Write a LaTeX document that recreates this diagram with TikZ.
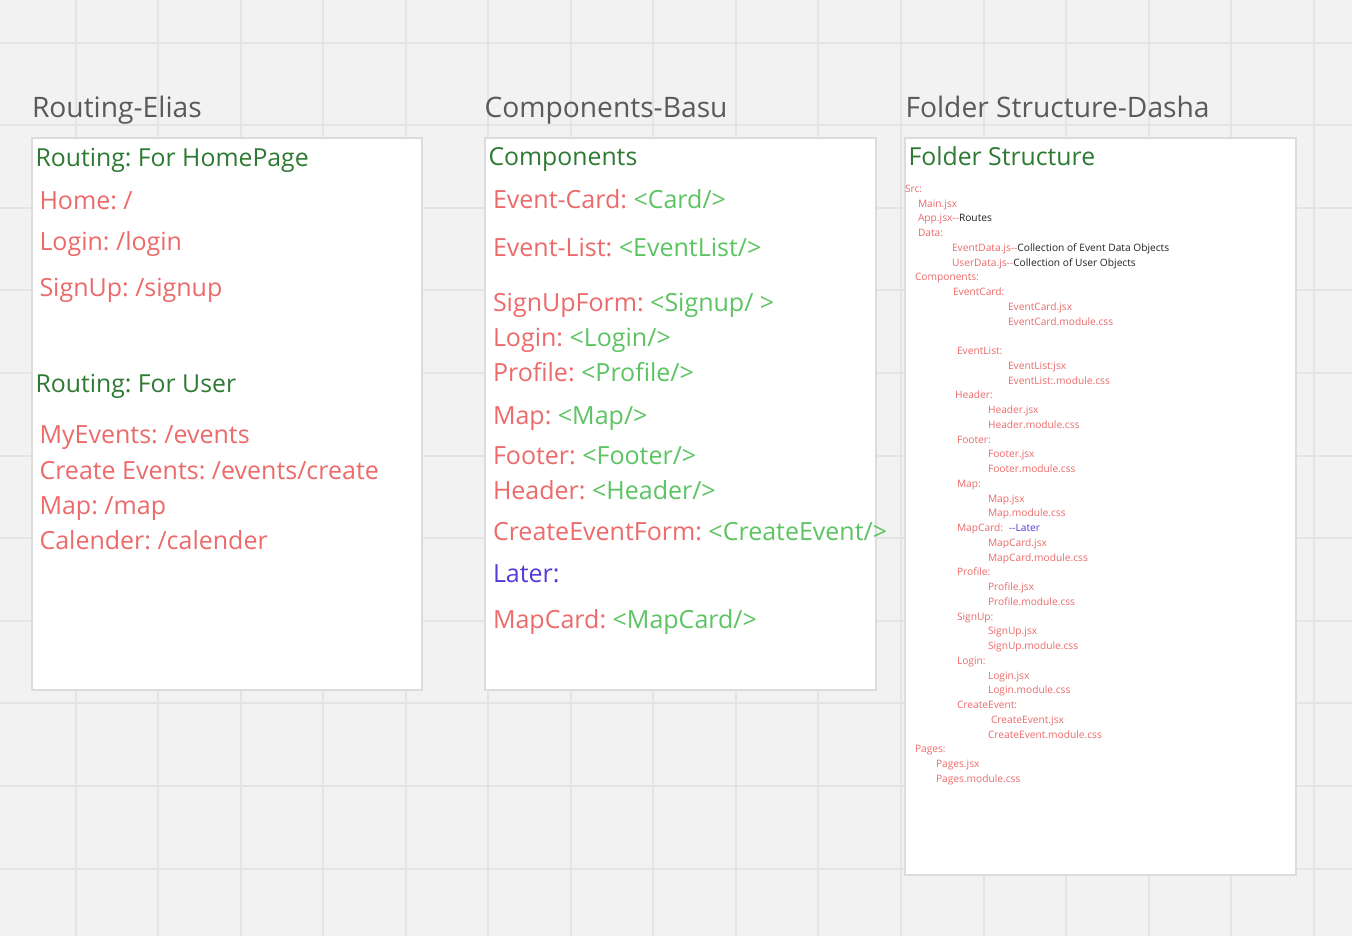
\documentclass[tikz,border=0pt]{standalone}
\usepackage{fontspec}
\setmainfont{Open Sans}
\frenchspacing
\definecolor{bg}{HTML}{F2F2F2}
\definecolor{gridc}{HTML}{E4E4E4}
\definecolor{boxline}{HTML}{DCDCDC}
\definecolor{titlec}{HTML}{5A5A5A}
\definecolor{dgreen}{RGB}{46,122,50}
\definecolor{salmon}{RGB}{236,106,106}
\definecolor{lgreen}{RGB}{92,196,98}
\definecolor{purp}{RGB}{84,58,214}
\definecolor{ink}{HTML}{222222}
\tikzset{
  every node/.style={inner sep=0pt, outer sep=0pt, anchor=base west},
  ttl/.style={text=titlec, font=\fontsize{28.2}{32}\selectfont},
  hd/.style={text=dgreen, font=\fontsize{24.8}{29}\selectfont},
  itm/.style={text=salmon, font=\fontsize{25}{29}\selectfont},
  ft/.style={text=salmon, font=\fontsize{10.2}{12}\selectfont},
  card/.style={draw=boxline, line width=2pt, fill=white}
}
\begin{document}
\begin{tikzpicture}[x=1pt,y=-1pt]
\useasboundingbox (0,0) rectangle (1352,936);
\fill[bg] (0,0) rectangle (1352,936);
% grid
\foreach \k in {0,...,15} \draw[gridc, line width=2pt] ({75.5+82.55*\k},0) -- ({75.5+82.55*\k},936);
\foreach \k in {0,...,10} \draw[gridc, line width=2pt] (0,{42.6+82.6*\k}) -- (1352,{42.6+82.6*\k});
% boxes
\draw[card] (32,138) rectangle (422,690);
\draw[card] (485,138) rectangle (876,690);
\draw[card] (905,138) rectangle (1296,875);
% titles
\node[ttl] (t1) at (32,118) {Routing-Elias};
\node[ttl] (t2) at (484.5,118) {Components-Basu};
\node[ttl] (t3) at (905.5,118) {Folder Structure-Dasha};
% box 1
\node[hd] (r1) at (35.5,166.5) {Routing: For HomePage};
\node[itm] (r2) at (39.5,209.3) {Home: /};
\node[itm] (r3) at (39.5,251) {Login: /login};
\node[itm] (r4) at (39.5,296) {SignUp: /signup};
\node[hd] (r5) at (35.5,392.5) {Routing: For User};
\node[itm] (r6) at (39.5,443.7) {MyEvents: /events};
\node[itm] (r7) at (39.5,479.7) {Create Events: /events/create};
\node[itm] (r8) at (39.5,514.3) {Map: /map};
\node[itm] (r9) at (39.5,549.3) {Calender: /calender};
% box 2
\node[hd] (c0) at (488.5,166) {Components};
\node[itm] (c1) at (493,208.3) {Event-Card: \textcolor{lgreen}{<Card/>}};
\node[itm] (c2) at (493,256.7) {Event-List: \textcolor{lgreen}{<EventList/>}};
\node[itm] (c3) at (493,311) {SignUpForm: \textcolor{lgreen}{<Signup/ >}};
\node[itm] (c4) at (493,346) {Login: \textcolor{lgreen}{<Login/>}};
\node[itm] (c5) at (493,381) {Profile: \textcolor{lgreen}{<Profile/>}};
\node[itm] (c6) at (493,424) {Map: \textcolor{lgreen}{<Map/>}};
\node[itm] (c7) at (493,464.3) {Footer: \textcolor{lgreen}{<Footer/>}};
\node[itm] (c8) at (493,499.3) {Header: \textcolor{lgreen}{<Header/>}};
\node[itm] (c9) at (493,540.3) {CreateEventForm: \textcolor{lgreen}{<CreateEvent/>}};
\node[itm, text=purp] (c10) at (493,582.7) {Later:};
\node[itm] (c11) at (493,628.3) {MapCard: \textcolor{lgreen}{<MapCard/>}};
% box 3
\node[hd] (d0) at (908.5,166) {Folder Structure};
\foreach \xx/\ii/\tx in {
  905/0/{Src:},
  918/1/{Main.jsx},
  918/2/{App.jsx-{}-\textcolor{ink}{Routes}},
  918/3/{Data:},
  952/4/{EventData.js-{}-\textcolor{ink}{Collection of Event Data Objects}},
  952/5/{UserData.js-{}-\textcolor{ink}{Collection of User Objects}},
  915/6/{Components:},
  953/7/{EventCard:},
  1008/8/{EventCard.jsx},
  1008/9/{EventCard.module.css},
  957/11/{EventList:},
  1008/12/{EventList:jsx},
  1008/13/{EventList:.module.css},
  955/14/{Header:},
  988/15/{Header.jsx},
  988/16/{Header.module.css},
  957/17/{Footer:},
  988/18/{Footer.jsx},
  988/19/{Footer.module.css},
  957/20/{Map:},
  988/21/{Map.jsx},
  988/22/{Map.module.css},
  957/23/{MapCard:},
  988/24/{MapCard.jsx},
  988/25/{MapCard.module.css},
  957/26/{Profile:},
  988/27/{Profile.jsx},
  988/28/{Profile.module.css},
  957/29/{SignUp:},
  988/30/{SignUp.jsx},
  988/31/{SignUp.module.css},
  957/32/{Login:},
  988/33/{Login.jsx},
  988/34/{Login.module.css},
  957/35/{CreateEvent:},
  991/36/{CreateEvent.jsx},
  988/37/{CreateEvent.module.css},
  915/38/{Pages:},
  936/39/{Pages.jsx},
  936/40/{Pages.module.css}}
  \node[ft] (f\ii) at (\xx,{192.3+14.75*\ii}) {\tx};
\node[ft, text=purp] (flater) at (1009,531.55) {-{}-Later};
\end{tikzpicture}
\end{document}
